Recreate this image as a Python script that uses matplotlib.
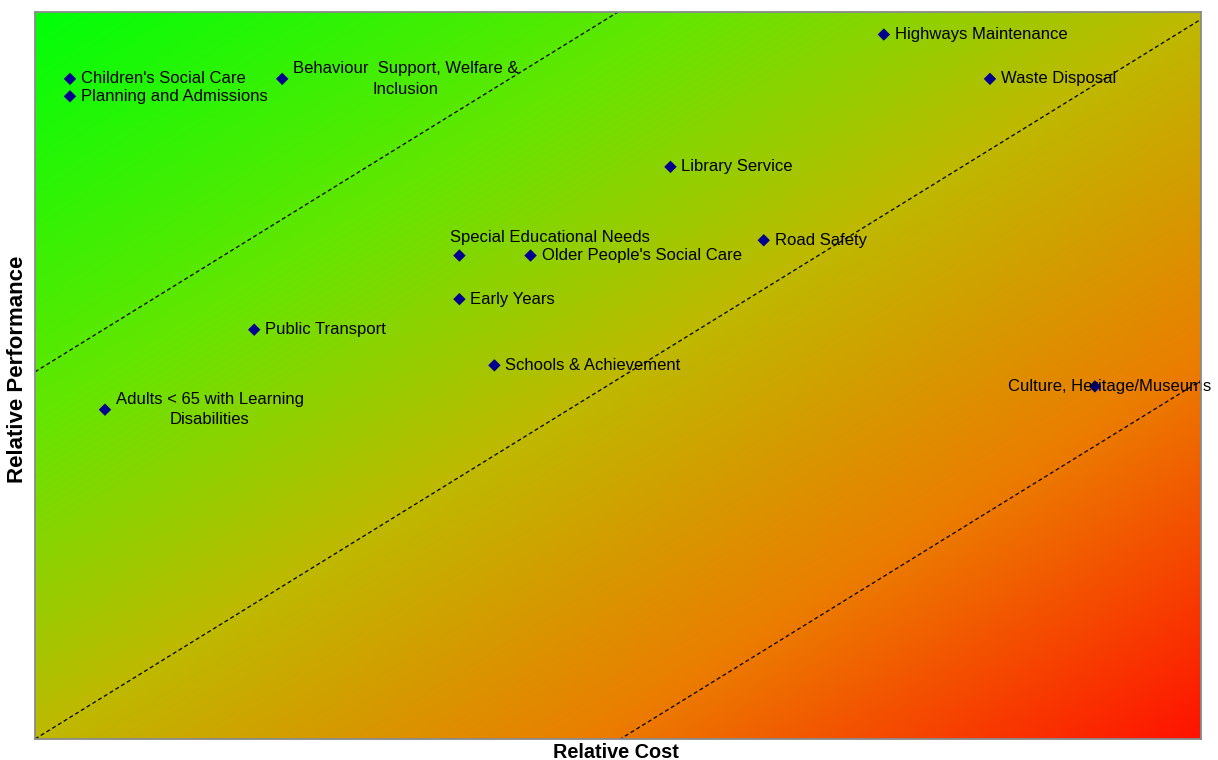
import numpy as np
import matplotlib
matplotlib.use("Agg")
import matplotlib.pyplot as plt

# ---- data ----
services = [
    "Children's Social Care",
    "Planning and Admissions",
    "Behaviour  Support, Welfare &\nInclusion",
    "Highways Maintenance",
    "Waste Disposal",
    "Library Service",
    "Road Safety",
    "Special Educational Needs",
    "Older People's Social Care",
    "Early Years",
    "Public Transport",
    "Schools & Achievement",
    "Adults < 65 with Learning\nDisabilities",
    "Culture, Heritage/Museums",
]
relative_cost = [0.030, 0.030, 0.212, 0.728, 0.819, 0.545, 0.625,
                 0.364, 0.425, 0.364, 0.188, 0.394, 0.060, 0.909]
relative_performance = [0.908, 0.884, 0.908, 0.969, 0.908, 0.787, 0.686,
                        0.665, 0.665, 0.605, 0.563, 0.514, 0.453, 0.485]

# guide lines (slope, intercept)
guide_slope = 0.99
guide_intercepts = [0.505, 0.0, -0.497]

# ---- label placement (pixel offsets, alignment) ----
label_style = {
    "Special Educational Needs": ((-9, 18), "left"),
    "Culture, Heritage/Museums": ((15, 0), "center"),
}
default_style = ((11, 0), "left")

W, H = 1218, 760
fig = plt.figure(figsize=(W / 100, H / 100), dpi=100)
L, R, T, B = 35, 1201, 12, 739
ax = fig.add_axes([L / W, 1 - B / H, (R - L) / W, (B - T) / H])
ax.set_xlim(0, 1)
ax.set_ylim(0, 1)

# gradient background: green top-left -> red bottom-right
stops_t = [0.0, 0.28, 0.5, 0.74, 1.0]
stops_r = [0, 100, 190, 235, 255]
stops_g = [255, 230, 185, 125, 18]
stops_b = [10, 0, 0, 0, 0]
ny, nx = 300, 480
u = np.linspace(0, 1, nx)[None, :]
v = np.linspace(0, 1, ny)[:, None]  # 0 at top
t = (u + v) / 2.0
img = np.stack([np.interp(t, stops_t, stops_r),
                np.interp(t, stops_t, stops_g),
                np.interp(t, stops_t, stops_b)], axis=-1) / 255.0
ax.imshow(img, extent=(0, 1, 0, 1), origin="upper", aspect="auto",
          interpolation="bilinear", zorder=0)

xs = np.array([0, 1])
for b in guide_intercepts:
    ax.plot(xs, guide_slope * xs + b, color="black", lw=0.9,
            linestyle=(0, (3.2, 2.2)), zorder=1)

ax.scatter(relative_cost, relative_performance, marker="D", s=40,
           color="#000090", edgecolors="none", zorder=3)

for name, x, y in zip(services, relative_cost, relative_performance):
    (dx, dy), ha = label_style.get(name, default_style)
    ax.annotate(name, (x, y), xytext=(dx, dy), textcoords="offset pixels",
                ha=ha, va="center", multialignment="center", linespacing=1.45,
                fontsize=12, family="Liberation Sans", color="black",
                zorder=4, annotation_clip=False)

ax.set_xticks([])
ax.set_yticks([])
for s in ax.spines.values():
    s.set_color("#8a8a8a")
    s.set_linewidth(1.3)
    s.set_zorder(5)

fig.text(616 / W, 1 - 752 / H, "Relative Cost", ha="center", va="center",
         fontsize=14.3, fontweight="bold", family="Liberation Sans")
fig.text(18 / W, 1 - 369 / H, "Relative Performance", ha="center", va="center",
         rotation=90, fontsize=16, fontweight="bold", family="Liberation Sans")

fig.savefig("out.png", dpi=100)
